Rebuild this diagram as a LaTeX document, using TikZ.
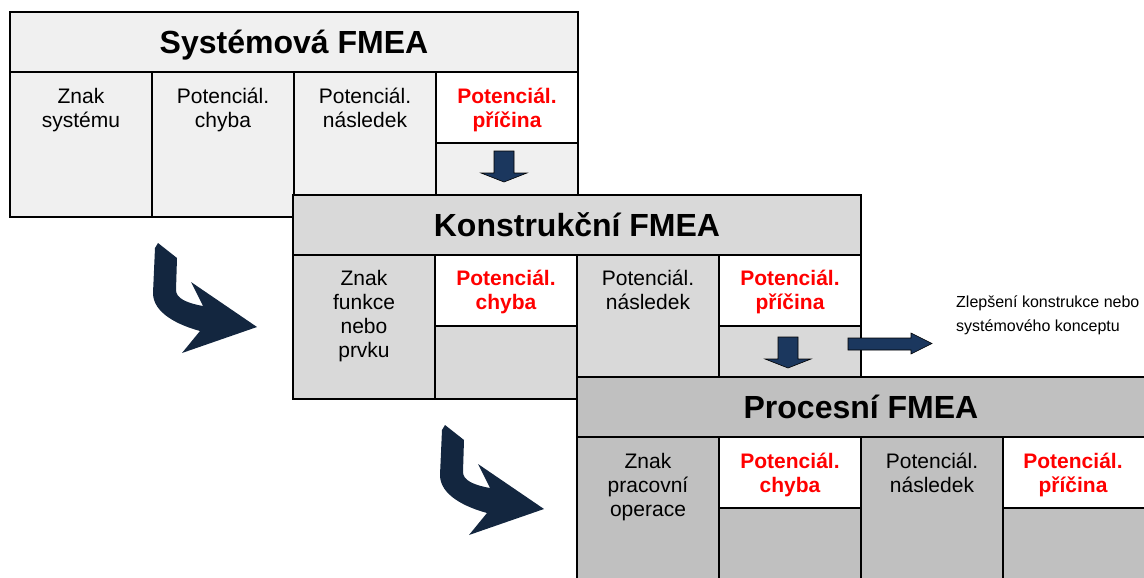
\documentclass[tikz,border=0pt]{standalone}
\usepackage{fontspec}
\setmainfont{Liberation Sans}
\definecolor{sysfill}{HTML}{F0F0F0}
\definecolor{konfill}{HTML}{D9D9D9}
\definecolor{profill}{HTML}{C0C0C0}
\definecolor{navy}{HTML}{1B375E}
\definecolor{deepnavy}{HTML}{13263F}
\definecolor{fmeared}{HTML}{FF0000}
% strut that fixes the height of the first text line of a cell
\newcommand{\firstln}{\rule{0pt}{17pt}}
\newcommand{\noteln}{\rule{0pt}{13pt}}
% one FMEA table: #1 left x, #2 top y, #3 fill, #4 total height
\newcommand{\fmeatable}[4]{%
  \draw[tbl,fill=#3] (#1,#2) rectangle ++(568,#4);
  \draw[tbl] (#1,#2+60) -- ++(568,0);
  \foreach \c in {142,284,426} \draw[tbl] (#1+\c,#2+60) -- (#1+\c,#2+#4);
  \draw[tbl,fill=white] (#1+426,#2+60) rectangle ++(142,71);
}
\begin{document}
\begin{tikzpicture}[x=1pt,y=-1pt,
  tbl/.style={draw=black,line width=2pt},
  title/.style={font=\fontsize{32}{38}\selectfont\bfseries,anchor=base,inner sep=0pt},
  cell/.style={font=\fontsize{21}{24}\selectfont,align=center,anchor=north,inner sep=0pt},
  cellred/.style={cell,font=\fontsize{21}{24}\selectfont\bfseries,text=fmeared},
  note/.style={font=\fontsize{16}{24}\selectfont,align=left,anchor=north west,inner sep=0pt},
  blockarrow/.style={fill=navy,draw=black,line width=0.6pt},
  bend arrow/.pic={
    \fill[deepnavy] (0,0) -- (19,15) -- (18,47)
      .. controls (18,55) and (28,60) .. (45,63) -- (33,39) -- (99,84)
      -- (24,110) -- (42,88) .. controls (20,82) and (-5,70) .. (-5,50)
      -- (-3,5) -- cycle;
  }]
\useasboundingbox (0,0) rectangle (1144,578);
\clip (0,0) rectangle (1144,578);

% System FMEA
\fmeatable{10}{12}{sysfill}{205}
\node[title] (systitle) at (294,53.5) {Systémová FMEA};
\node[cell] (s1) at (81,86) {\firstln Znak\\systému};
\node[cell] (s2) at (223,86) {\firstln Potenciál.\\chyba};
\node[cell] (s3) at (365,86) {\firstln Potenciál.\\následek};
\node[cellred] (s4) at (507,86) {\firstln Potenciál.\\příčina};
\draw[blockarrow] (494,151) -- (514,151) -- (514,173) -- (527,173) -- (504,182)
  -- (481,173) -- (494,173) -- cycle;

% Design FMEA
\fmeatable{293}{195}{konfill}{204}
\draw[tbl,fill=white] (435,255) rectangle ++(142,71);
\node[title] (kontitle) at (577,236) {Konstrukční FMEA};
\node[cell] (k1) at (364,268) {\firstln Znak\\funkce\\nebo\\prvku};
\node[cellred] (k2) at (506,268) {\firstln Potenciál.\\chyba};
\node[cell] (k3) at (648,268) {\firstln Potenciál.\\následek};
\node[cellred] (k4) at (790,268) {\firstln Potenciál.\\příčina};
\draw[blockarrow] (778,337) -- (798,337) -- (798,359) -- (811,359) -- (788,368)
  -- (765,359) -- (778,359) -- cycle;
\draw[blockarrow] (848,338) -- (911,338) -- (911,333) -- (932,343.5) -- (911,354)
  -- (911,350) -- (848,350) -- cycle;
\node[note] (improve) at (956,294) {\noteln Zlepšení konstrukce nebo\\systémového konceptu};

% Process FMEA
\fmeatable{577}{377}{profill}{230}
\draw[tbl,fill=white] (719,437) rectangle ++(142,71);
\node[title] (protitle) at (861,418.5) {Procesní FMEA};
\node[cell] (p1) at (648,451) {\firstln Znak\\pracovní\\operace};
\node[cellred] (p2) at (790,451) {\firstln Potenciál.\\chyba};
\node[cell] (p3) at (932,451) {\firstln Potenciál.\\následek};
\node[cellred] (p4) at (1073,451) {\firstln Potenciál.\\příčina};

% bent arrows between the levels
\pic at (158,243) {bend arrow};
\pic at (445,425) {bend arrow};
\end{tikzpicture}
\end{document}
